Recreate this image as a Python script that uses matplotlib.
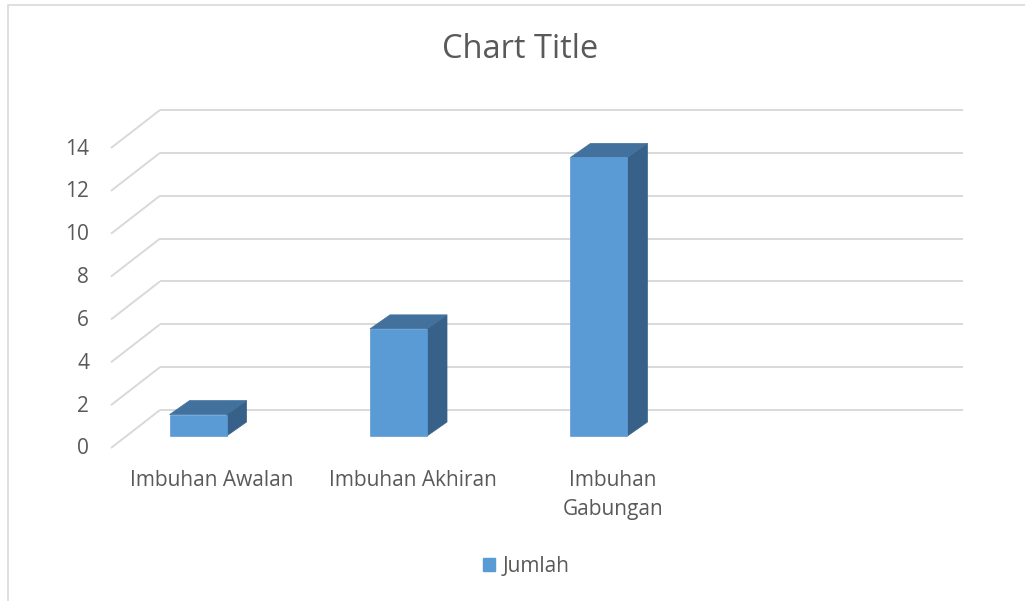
import textwrap
import matplotlib
matplotlib.use("Agg")
import matplotlib.pyplot as plt
from matplotlib.patches import Rectangle, Polygon, Patch
from matplotlib.lines import Line2D

# ---- data ----
categories = ["Imbuhan Awalan", "Imbuhan Akhiran", "Imbuhan Gabungan", ""]
values = [1, 5, 13]
series_name = "Jumlah"
yticks = [0, 2, 4, 6, 8, 10, 12, 14]
title = "Chart Title"

# ---- style ----
FONT = "Open Sans"
TXT = "#595959"
GRID = "#d9d9d9"
FRONT = "#5B9BD5"
TOP = "#41719C"
SIDE = "#386189"

W, H = 1025, 601
fig = plt.figure(figsize=(W / 100, H / 100), dpi=100)
plt.rcParams["font.family"] = [FONT, "DejaVu Sans"]

# axes describing the plane of the bars' front faces
ax = fig.add_axes([126.7 / W, 1 - 436 / H, 803 / W, 300 / H])
ax.set_xlim(-0.356, 3.65)
ax.set_ylim(0, 14)
ax.axis("off")

# depth vectors (data units)
sx = 803 / (3.65 + 0.356)   # px per category unit
sy = 300 / 14               # px per value unit
BACK = (33.3 / sx, 26 / sy)
FRONTE = (-15.7 / sx, -12 / sy)
BD = (20 / sx, 14 / sy)
BW = 57 / sx

x0, x1 = ax.get_xlim()

# gridlines: back wall + left side wall
for v in yticks:
    ax.plot([x0 + BACK[0], x1 + BACK[0]], [v + BACK[1], v + BACK[1]],
            color=GRID, lw=1.4, zorder=1, clip_on=False, solid_capstyle="butt")
    ax.plot([x0 + FRONTE[0], x0 + BACK[0]], [v + FRONTE[1], v + BACK[1]],
            color=GRID, lw=1.4, zorder=1, clip_on=False, solid_capstyle="butt")
    ax.annotate(str(v), (x0 + FRONTE[0], v + FRONTE[1]), xytext=(-22, -1),
                textcoords="offset pixels", ha="right", va="center",
                fontsize=15, color=TXT, annotation_clip=False)

# bars
for i, v in enumerate(values):
    l, r = i - BW / 2, i + BW / 2
    ax.add_patch(Polygon([(r, 0), (r + BD[0], BD[1]), (r + BD[0], v + BD[1]), (r, v)],
                         closed=True, facecolor=SIDE, edgecolor=SIDE, lw=0.5,
                         zorder=3, clip_on=False))
    ax.add_patch(Polygon([(l, v), (r, v), (r + BD[0], v + BD[1]), (l + BD[0], v + BD[1])],
                         closed=True, facecolor=TOP, edgecolor=TOP, lw=0.5,
                         zorder=3, clip_on=False))
    ax.add_patch(Rectangle((l, 0), BW, v, facecolor=FRONT, edgecolor=FRONT, lw=0.5,
                           zorder=4, clip_on=False))

# category labels
for i, c in enumerate(categories):
    if not c:
        continue
    ax.annotate(textwrap.fill(c, 15), (i + 14 / sx, 0), xytext=(0, -34),
                textcoords="offset pixels", ha="center", va="top",
                multialignment="center", fontsize=15, color=TXT,
                linespacing=1.5, annotation_clip=False)

# title
fig.text(520 / W, 1 - 49 / H, title, ha="center", va="center",
         fontsize=23.5, color=TXT)

# legend
fig.legend(handles=[Patch(facecolor=FRONT, edgecolor=FRONT, label=series_name)],
           loc="center", bbox_to_anchor=(526 / W, 1 - 566 / H), frameon=False,
           fontsize=15, handlelength=0.6, handleheight=0.6,
           handletextpad=0.35, labelcolor=TXT)

# chart border (left and top)
fig.add_artist(Line2D([8 / W, 8 / W, 1], [0, 1 - 5 / H, 1 - 5 / H],
                      transform=fig.transFigure, color=GRID, lw=1.2))

fig.savefig("out.png", dpi=100, facecolor="white")
